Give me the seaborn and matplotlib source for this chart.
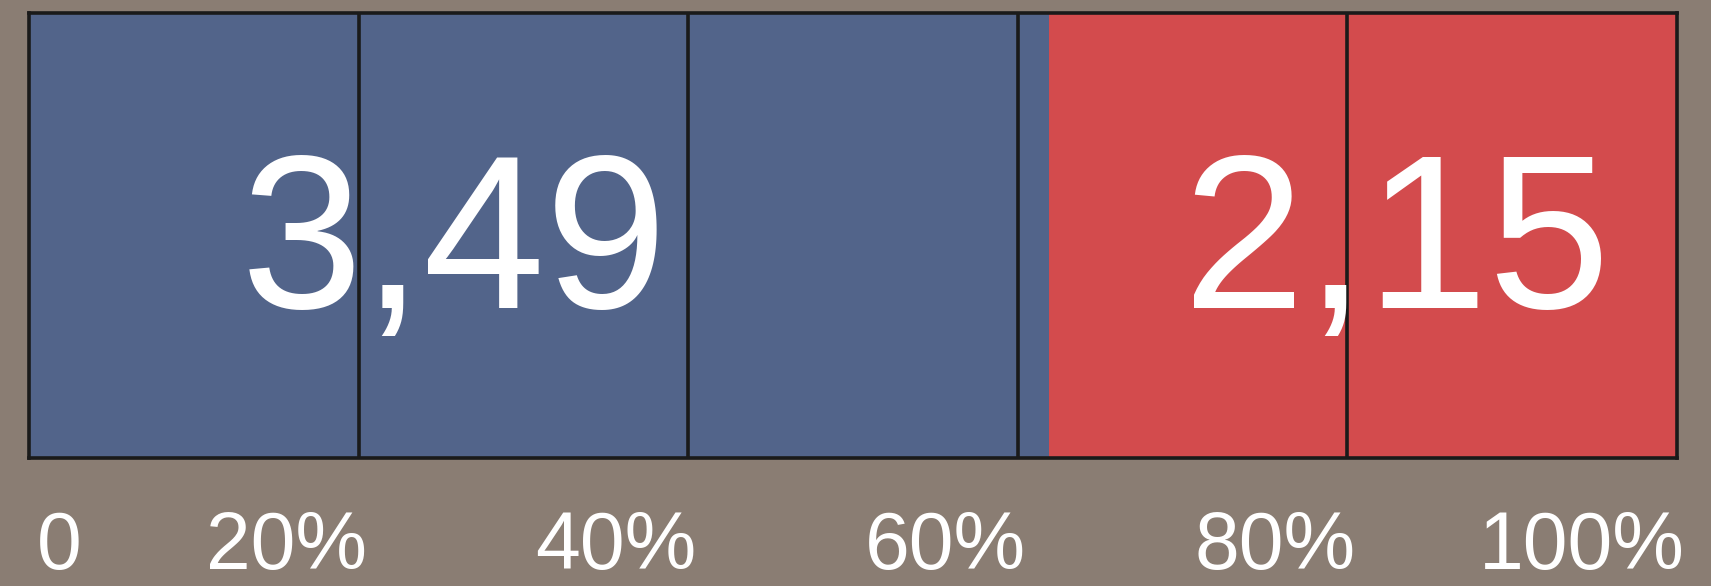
import matplotlib
matplotlib.use("Agg")
import matplotlib.pyplot as plt
import matplotlib.transforms as mtransforms
import seaborn as sns
import pandas as pd

# data
series = ["Serie 1", "Serie 2"]
values = [3.49, 2.15]
value_labels = ["3,49", "2,15"]
tick_values = [0, 20, 40, 60, 80, 100]
tick_labels = ["0", "20%", "40%", "60%", "80%", "100%"]

BG = "#8a7d73"
COLORS = ["#52648a", "#d34b4d"]
EDGE = "#1a1a1a"
# where the value label sits inside its own segment (fraction of segment)
label_frac = [0.417, 0.553]

sns.set_theme(style="white")
plt.rcParams["font.family"] = ["Liberation Sans", "DejaVu Sans"]

df = pd.DataFrame({"serie": series, "value": values})
df["share"] = df["value"] / df["value"].sum() * 100
df["right"] = df["share"].cumsum()
df["left"] = df["right"] - df["share"]
df["bar"] = "total"

fig = plt.figure(figsize=(17.11, 5.86), dpi=100, facecolor=BG)
ax = fig.add_axes([29 / 1711, 128 / 586, 1648 / 1711, 445 / 586])
ax.set_facecolor(BG)

# stacked bar: draw the cumulative bars from the widest down
for i in reversed(range(len(df))):
    row = df.iloc[[i]]
    sns.barplot(data=row, x="right", y="bar", orient="h", color=COLORS[i],
                saturation=1, width=1.0, linewidth=0, ax=ax, zorder=2)

ax.set_xlim(0, 100)
ax.set_ylim(0.5, -0.5)
ax.set_xlabel("")
ax.set_ylabel("")
ax.set_yticks([])
ax.set_xticks([])

for x in tick_values[1:-1]:
    ax.axvline(x, color=EDGE, linewidth=2.6, zorder=3)
for side in ["top", "bottom", "left", "right"]:
    ax.spines[side].set_visible(True)
    ax.spines[side].set_color(EDGE)
    ax.spines[side].set_linewidth(2.6)
    ax.spines[side].set_zorder(4)

# tick labels under the bar, nudged a little to the right like the original
trans = mtransforms.blended_transform_factory(ax.transData, ax.transAxes)
nudge = mtransforms.ScaledTranslation(8 / 100, 0, fig.dpi_scale_trans)
for k, (tv, tl) in enumerate(zip(tick_values, tick_labels)):
    ax.text(tv, -0.117, tl, transform=trans + nudge,
            ha="left" if k == 0 else "right", va="top",
            fontsize=58, color="white", clip_on=False)

for i, row in df.iterrows():
    ax.text(row["left"] + label_frac[i] * row["share"], 0.338, value_labels[i],
            transform=trans, ha="center", va="baseline", fontsize=158,
            color="white", zorder=5)

fig.savefig("out.png", dpi=100, facecolor=BG)
